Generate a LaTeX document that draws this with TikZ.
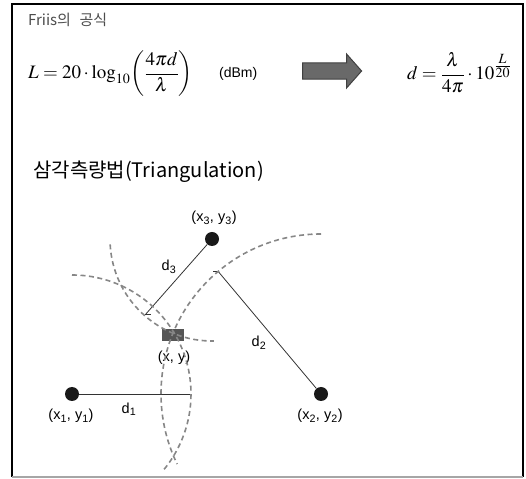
\documentclass[tikz,border=0pt]{standalone}
\usepackage{amsmath}
\usepackage{mathptmx}
\usepackage{fontspec}
\setsansfont{Liberation Sans}
\newfontfamily\hangul{Noto Sans CJK KR}
\usetikzlibrary{calc, positioning, shapes.arrows}
\definecolor{ringgray}{RGB}{135,135,135}
\definecolor{spotgray}{RGB}{85,85,85}
\definecolor{arrowgray}{RGB}{105,105,105}

\begin{document}
\begin{tikzpicture}[x=1pt, y=1pt,
  dot/.style={circle, fill=black!90, inner sep=0pt, minimum size=14pt},
  spot/.style={rectangle, fill=spotgray, inner sep=0pt, minimum width=22pt, minimum height=12pt},
  ring/.style={draw=ringgray, line width=1.6pt, dash pattern=on 5pt off 3.5pt},
  dist/.style={draw=black!80, line width=0.8pt},
  lbl/.style={font=\sffamily\fontsize{14.5}{16}\selectfont, inner sep=1pt},
  eq/.style={font=\fontsize{19}{22}\selectfont, inner sep=0pt},
]
\useasboundingbox (0,0) rectangle (526,478);
\draw[line width=1.2pt] (12,1) -- (12,474) -- (523,474) -- (523,1);
\draw[line width=1.2pt, black!35] (12,1) -- (523,1);

\node[anchor=west, text=black!70, inner sep=0pt, font=\hangul\fontsize{15}{17}\selectfont] (head) at (28,458) {Friis의\hspace{0.35em} 공식};
\node[eq, anchor=west] (friis) at (28,404) {$L = 20\cdot\log_{10}\!\left(\dfrac{4\pi d}{\lambda}\right)$};
\node[right=26pt of friis, inner sep=0pt, font=\sffamily\fontsize{14}{16}\selectfont] (unit) {(dBm)};
\node[single arrow, draw=black!75, line width=1pt, fill=arrowgray, inner sep=6pt,
      minimum height=59pt, minimum width=34pt, single arrow tip angle=97] (go) at (328.5,407) {};
\node[eq, anchor=west] (inv) at (407,405) {$d = \dfrac{\lambda}{4\pi}\cdot 10^{\textstyle\frac{L}{20}}$};

\node[anchor=west, inner sep=0pt, font=\hangul\fontsize{20}{22}\selectfont] (title) at (33,306) {삼각측량법(Triangulation)};

\node[spot] (xy) at (173,143) {};
\node[dot] (p1) at (72,84) {};
\node[dot] (p2) at (321,84) {};
\node[dot] (p3) at (212,239) {};
\node[lbl] (l1) at (71,62) {(x\textsubscript{1}, y\textsubscript{1})};
\node[lbl] (l2) at (320,62) {(x\textsubscript{2}, y\textsubscript{2})};
\node[lbl] (l3) at (214,260) {(x\textsubscript{3}, y\textsubscript{3})};
\node[lbl] (lxy) at (174,120) {(x, y)};

\coordinate (e1) at ($(p1)+(0:119pt)$);
\coordinate (e2) at ($(p2)+(130:160pt)$);
\coordinate (e3) at ($(p3)+(228.6:101pt)$);
\draw[dist] (p1) -- (e1);
\draw[dist] (p2) -- (e2);
\draw[dist] (p3) -- (e3);
\draw[dist] (e2) -- ++(-5pt,0);
\draw[dist] (e3) -- ++(6pt,0);
\node[lbl] (d1) at (129,69) {d\textsubscript{1}};
\node[lbl] (d2) at (259,135) {d\textsubscript{2}};
\node[lbl] (d3) at (169,211) {d\textsubscript{3}};

\draw[ring] (p1.center) ++(90:119pt) arc[start angle=90, end angle=-40, radius=119pt];
\draw[ring] (p2.center) ++(90:160pt) arc[start angle=90, end angle=206, radius=160pt];
\draw[ring] (p3.center) ++(183:102pt) arc[start angle=183, end angle=271, radius=102pt];
\end{tikzpicture}
\end{document}
